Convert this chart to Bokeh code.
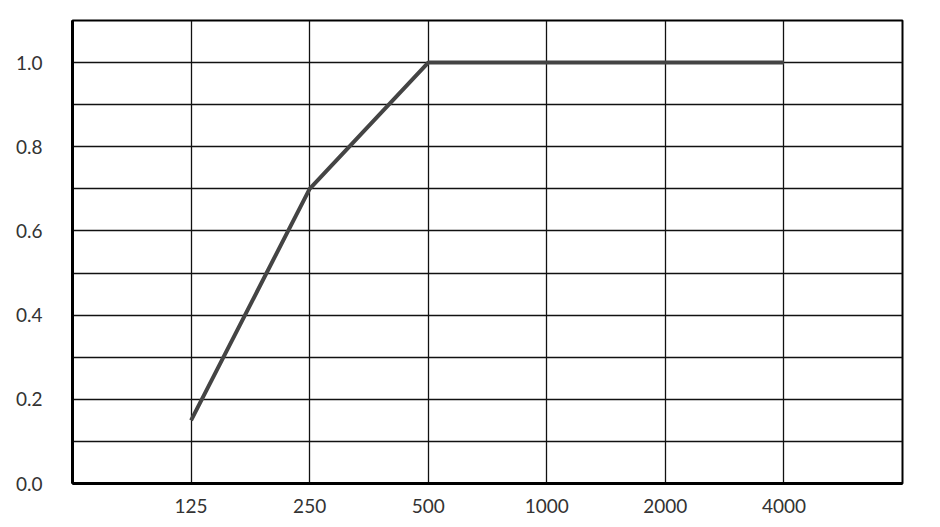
from bokeh.plotting import figure
from bokeh.models import FixedTicker, Range1d
from bokeh.embed import file_html
from bokeh.resources import INLINE

freq_labels = ["125", "250", "500", "1000", "2000", "4000"]
absorption = [0.15, 0.70, 1.00, 1.00, 1.00, 1.00]
y_ticks = [0.0, 0.2, 0.4, 0.6, 0.8, 1.0]
y_grid = [0.1, 0.2, 0.3, 0.4, 0.5, 0.6, 0.7, 0.8, 0.9, 1.0]

xs = list(range(1, len(freq_labels) + 1))

p = figure(width=932, height=519, output_backend="svg", toolbar_location=None,
           x_range=Range1d(0, len(freq_labels) + 1), y_range=Range1d(0, 1.1),
           min_border_left=72, min_border_right=30, min_border_top=20, min_border_bottom=36)

p.line(xs, absorption, line_color="#444444", line_width=4)

p.xaxis.ticker = FixedTicker(ticks=xs)
p.xaxis.major_label_overrides = {x: lab for x, lab in zip(xs, freq_labels)}
p.yaxis.ticker = FixedTicker(ticks=y_ticks)
p.yaxis.major_label_overrides = {t: f"{t:.1f}" for t in y_ticks}

for ax in (p.xaxis, p.yaxis):
    ax.major_tick_line_color = None
    ax.minor_tick_line_color = None
    ax.axis_line_color = "black"
    ax.axis_line_width = 3
    ax.major_label_text_font = "Lato"
    ax.major_label_text_font_size = "19px"
    ax.major_label_text_color = "#333333"
p.xaxis.major_label_standoff = 9
p.yaxis.major_label_standoff = 24

p.xgrid.ticker = FixedTicker(ticks=xs)
p.ygrid.ticker = FixedTicker(ticks=y_grid)
for g in (p.xgrid, p.ygrid):
    g.grid_line_color = "#111111"
    g.grid_line_width = 1.3
    g.grid_line_alpha = 1.0

p.outline_line_color = "black"
p.outline_line_width = 2
p.outline_line_alpha = 1.0
p.background_fill_color = "white"
p.border_fill_color = "white"

open("out.html", "w").write(file_html(p, INLINE))
